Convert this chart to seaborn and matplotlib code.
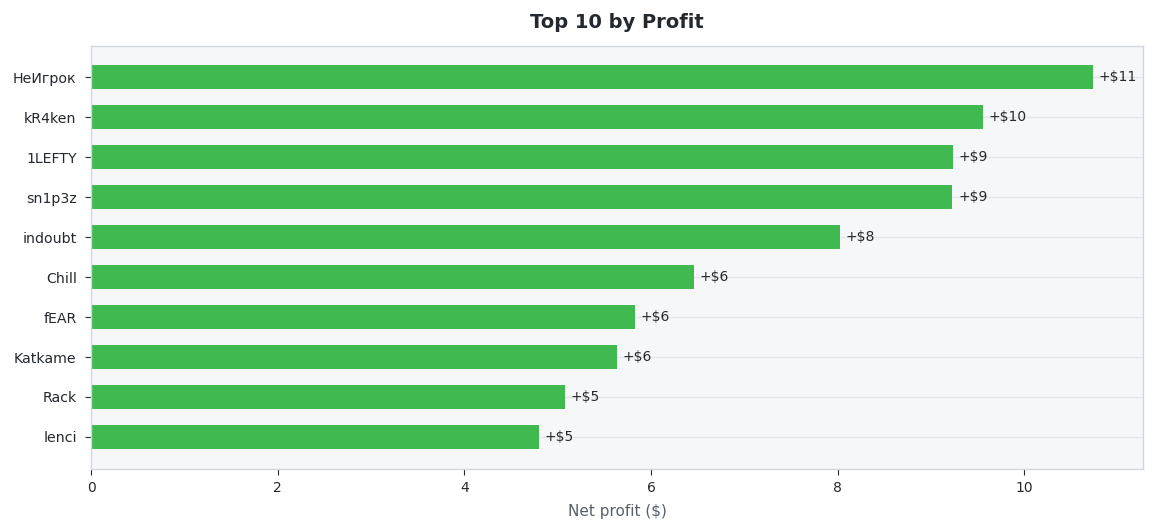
import pandas as pd
import matplotlib.pyplot as plt
import seaborn as sns

players = ["НеИгрок", "kR4ken", "1LEFTY", "sn1p3z", "indoubt",
           "Chill", "fEAR", "Katkame", "Rack", "lenci"]
profit = [10.74, 9.56, 9.24, 9.23, 8.02, 6.46, 5.83, 5.63, 5.08, 4.80]

df = pd.DataFrame({"player": players, "profit": profit})

sns.set_theme(style="whitegrid")
plt.rcParams['font.family'] = ['DejaVu Sans']

fig, ax = plt.subplots(figsize=(11.55, 5.31), dpi=100)
ax.set_facecolor("#f6f7f9")

sns.barplot(data=df, x="profit", y="player", color="#3fb950",
            width=0.6, saturation=1, linewidth=0, ax=ax)

for i, v in enumerate(df["profit"]):
    ax.text(v + 0.06, i, f"+${v:.0f}", va="center", ha="left",
            fontsize=10, color="#24292f")

ax.set_xlim(0, max(profit) * 1.05)
ax.set_ylim(9.8, -0.78)
ax.grid(axis="x", visible=False)
ax.grid(axis="y", color="#e3e6ec", linewidth=1)
for s in ax.spines.values():
    s.set_color("#d0d7de")
    s.set_linewidth(1)

ax.tick_params(axis="both", length=4, width=0.8, color="#24292f",
               labelsize=10, labelcolor="#24292f", bottom=True, left=True, pad=5)
ax.tick_params(axis="y", labelsize=10.2, pad=6.5)
ax.set_ylabel("")
ax.set_xlabel("Net profit ($)", fontsize=11, color="#57606a", labelpad=6)
ax.set_title("Top 10 by Profit", fontsize=14, fontweight="bold",
             color="#24292f", pad=13)

fig.subplots_adjust(left=0.079, right=0.99, top=0.913, bottom=0.117)
fig.savefig("out.png", dpi=100)
